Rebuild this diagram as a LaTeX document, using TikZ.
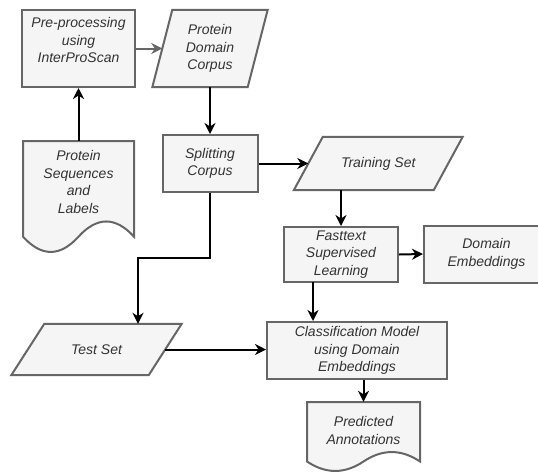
\documentclass[tikz,border=0pt]{standalone}
\usepackage{fontspec}
\setmainfont{Liberation Sans}
\usetikzlibrary{arrows.meta}
\definecolor{fillg}{HTML}{F5F5F5}
\definecolor{strokeg}{HTML}{666666}
\definecolor{textg}{HTML}{333333}
\begin{document}
\begin{tikzpicture}[x=1pt,y=-1pt,
  lbl/.style={inner sep=0pt, text=textg, align=center, font=\fontsize{14}{17.5}\selectfont\itshape},
  box/.style={lbl, draw=strokeg, fill=fillg, line width=2pt},
  anchorbox/.style={inner sep=0pt, draw=none},
  shp/.style={draw=strokeg, fill=fillg, line width=2pt, line join=miter},
  arr/.style={line width=2pt, draw=black, -{Stealth[length=11pt,width=11pt,inset=3.5pt]}},
  grayarr/.style={arr, draw=strokeg, -{Stealth[length=11pt,width=11pt,inset=3.5pt,fill=strokeg]}}]
\useasboundingbox (0,0) rectangle (538,472);

% Pre-processing
\node[box, minimum width=113pt, minimum height=77pt] (pre) at (78.5,48.5) {};
\node[lbl] (pretext) at (78.5,40) {Pre-processing\\using\\InterProScan};

% Protein Domain Corpus (parallelogram)
\node[anchorbox, minimum width=95pt, minimum height=77pt] (corpus) at (210,48.5) {};
\draw[shp] ([xshift=10pt]corpus.north west) -- ([xshift=10pt]corpus.north east)
  -- ([xshift=-10pt]corpus.south east) -- ([xshift=-10pt]corpus.south west) -- cycle;
\node[lbl] (corpustext) at (corpus.center) {Protein\\Domain\\Corpus};

% Protein Sequences and Labels (document)
\node[anchorbox, minimum width=111pt, minimum height=112.6pt] (seq) at (78.5,197.3) {};
\draw[shp] (23,141) -- (134,141) -- (134,236.7)
  .. controls +(-18.5,-20.3) and +(18.5,-20.3) .. (78.5,236.7)
  .. controls +(-18.5,20.3) and +(18.5,20.3) .. (23,236.7) -- cycle;
\node[lbl] (seqtext) at (78.5,182) {Protein\\Sequences\\and\\Labels};

% Splitting Corpus
\node[box, minimum width=95pt, minimum height=57pt] (split) at (210,163.5) {Splitting\\Corpus};

% Training Set (parallelogram)
\node[anchorbox, minimum width=139.5pt, minimum height=53pt] (train) at (378.25,163.5) {};
\draw[shp] ([xshift=14.5pt]train.north west) -- ([xshift=14.5pt]train.north east)
  -- ([xshift=-14.5pt]train.south east) -- ([xshift=-14.5pt]train.south west) -- cycle;
\node[lbl] (traintext) at (train.center) {Training Set};

% Fasttext
\node[box, minimum width=114pt, minimum height=55pt] (fast) at (341,254.5) {Fasttext\\Supervised\\Learning};

% Domain Embeddings
\node[box, minimum width=125pt, minimum height=57pt] (domain) at (486.5,254) {Domain\\Embeddings};

% Test Set (parallelogram)
\node[anchorbox, minimum width=137pt, minimum height=51pt] (test) at (96.5,349.5) {};
\draw[shp] ([xshift=16.5pt]test.north west) -- ([xshift=16.5pt]test.north east)
  -- ([xshift=-16.5pt]test.south east) -- ([xshift=-16.5pt]test.south west) -- cycle;
\node[lbl] (testtext) at (test.center) {Test Set};

% Classification Model
\node[box, minimum width=180pt, minimum height=57pt] (classif) at (357,350.5) {Classification Model\\using Domain\\Embeddings};

% Predicted Annotations (document)
\node[anchorbox, minimum width=113pt, minimum height=70pt] (pred) at (363.5,437) {};
\draw[shp] (307,402) -- (420,402) -- (420,461.5)
  .. controls +(-18.83,-12.6) and +(18.83,-12.6) .. (363.5,461.5)
  .. controls +(-18.83,12.6) and +(18.83,12.6) .. (307,461.5) -- cycle;
\node[lbl] (predtext) at (363.5,430.5) {Predicted\\Annotations};

% Connectors
\coordinate (bendA) at (138,258);
\coordinate (fc) at (313,282);
\draw[grayarr] (pre.east) -- (corpus.west);
\draw[arr] (seq.north) -- (pre.south);
\draw[arr] (corpus.south) -- (split.north);
\draw[arr] (split.east) -- (train.west);
\draw[arr] (split.south) |- (bendA) -- (bendA |- test.north);
\draw[arr] (fast.north |- train.south) -- (fast.north);
\draw[arr] (fast.east) -- (domain.west);
\draw[arr] (fc) -- (fc |- classif.north);
\draw[arr] (test.east) -- (test.east -| classif.west);
\draw[arr] (pred.north |- classif.south) -- (pred.north);
\end{tikzpicture}
\end{document}
